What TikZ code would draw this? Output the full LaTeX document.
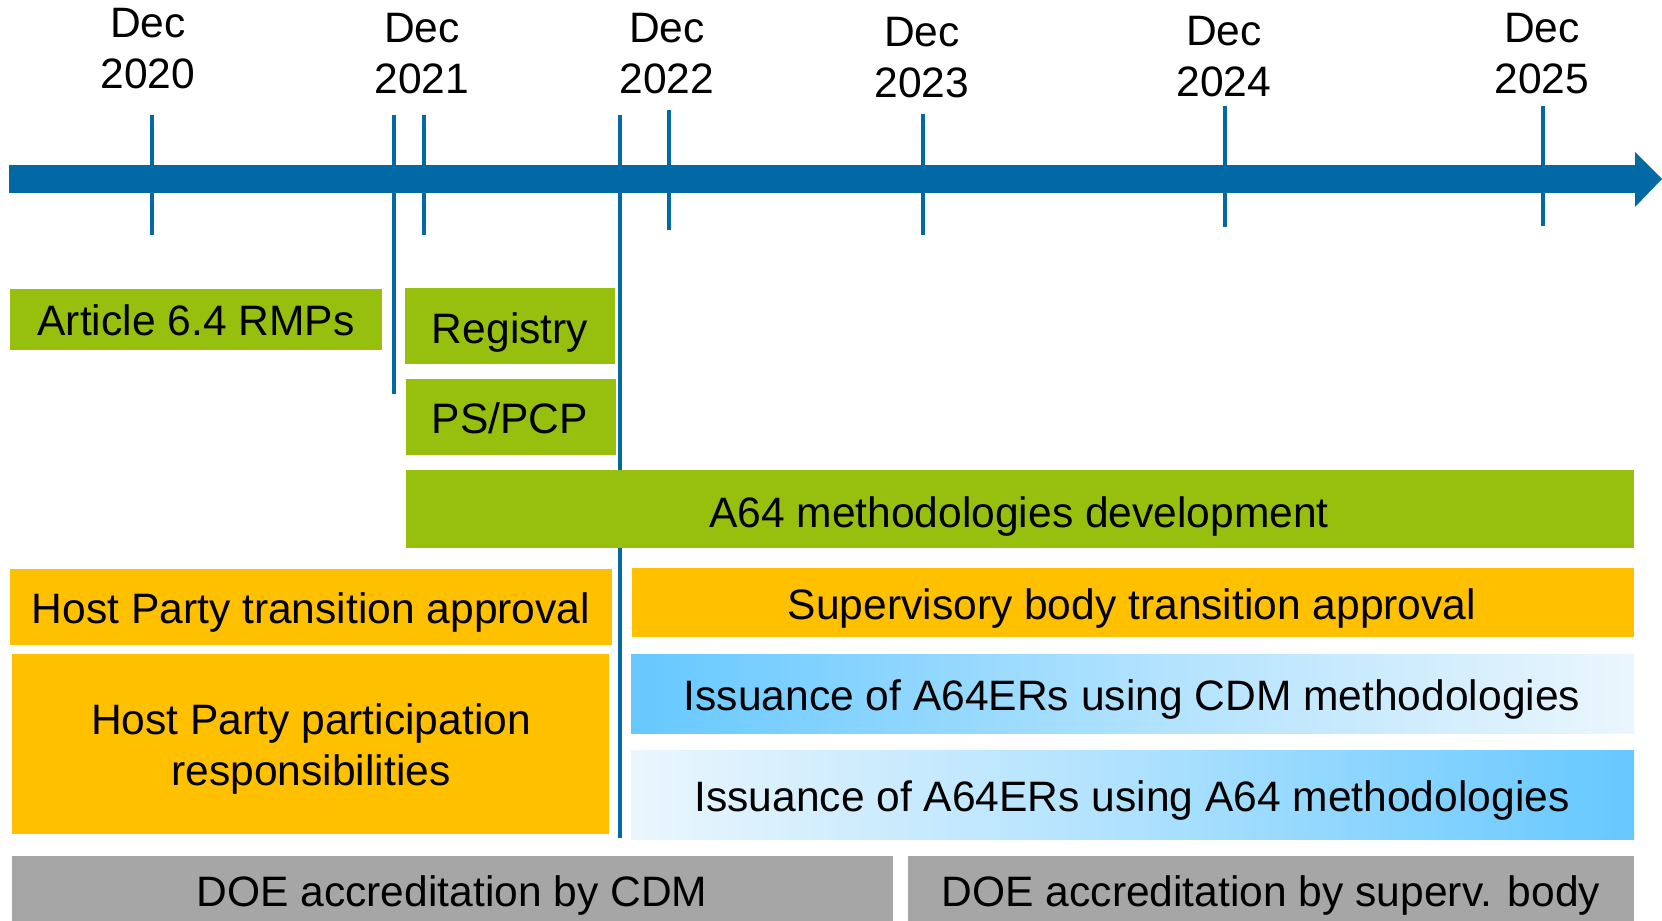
\documentclass[tikz,border=0pt]{standalone}
\usepackage{fontspec}
\setmainfont{Liberation Sans}
\definecolor{barblue}{RGB}{3,105,165}
\definecolor{grn}{RGB}{151,191,13}
\definecolor{orng}{RGB}{255,192,0}
\definecolor{gry}{RGB}{166,166,166}
\definecolor{skyblue}{RGB}{102,200,255}
\definecolor{paleblue}{RGB}{234,246,253}
\tikzset{
	lbl/.style={font=\fontsize{12.1}{14.5}\selectfont, align=center, inner sep=0pt},
	tickline/.style={barblue, line width=1.4pt}
}
\begin{document}
\begin{tikzpicture}[x=0.01cm, y=-0.01cm]
	\useasboundingbox (0,0) rectangle (1662,921);
	\clip (0,0) rectangle (1662,921);
	% Zeitachse
	\fill[barblue] (9,165) rectangle (1635,193);
	\fill[barblue] (1635,152) -- (1662,179) -- (1635,207) -- cycle;
	% Jahresmarken
	\foreach \x/\lx/\ly/\ta/\tb/\jahr in {152/148/49/115/235/2020, 424/422/54/115/235/2021,
		669/667/54/110/230/2022, 923/922/58/114/235/2023, 1225/1224/57/106/227/2024,
		1543/1542/54/106/226/2025}
	{
		\draw[tickline] (\x, \ta) -- (\x, \tb);
		\node[lbl] (dec\jahr) at (\lx, \ly) {Dec\\\jahr};
	}
	% lange Linien
	\draw[tickline] (394,115) -- (394,394);
	\draw[tickline] (620,115) -- (620,838);
	% gruene Balken
	\fill[grn] (10,289) rectangle (382,350);
	\node[lbl] (rmp) at (196,320) {Article 6.4 RMPs};
	\fill[grn] (405,288) rectangle (615,364);
	\node[lbl] (registry) at (510,332) {Registry};
	\fill[grn] (406,379) rectangle (616,455);
	\node[lbl] (pspcp) at (510,418) {PS/PCP};
	\fill[grn] (406,470) rectangle (1634,548);
	\node[lbl] (a64dev) at (1019,516) {A64 methodologies development};
	% orange Balken
	\fill[orng] (10,569) rectangle (612,645);
	\node[lbl] (hptrans) at (311,612) {Host Party transition approval};
	\fill[orng] (12,654) rectangle (609,834);
	\node[lbl] (hppart) at (311,749) {Host Party participation\\responsibilities};
	\fill[orng] (632,568) rectangle (1634,637);
	\node[lbl] (sbtrans) at (1132,608) {Supervisory body transition approval};
	% Ausgabe
	\shade[left color=skyblue, right color=paleblue, middle color=skyblue!45!paleblue] (631,654) rectangle (1634,733);
	\node[lbl] (isscdm) at (1132,699) {Issuance of A64ERs using CDM methodologies};
	\shade[left color=paleblue, right color=skyblue, middle color=skyblue!45!paleblue] (631,750) rectangle (1634,839);
	\node[lbl] (issa64) at (1132,800) {Issuance of A64ERs using A64 methodologies};
	% DOE
	\fill[gry] (12,856) rectangle (893,930);
	\node[lbl] (doecdm) at (452,895) {DOE accreditation by CDM};
	\fill[gry] (908,856) rectangle (1634,930);
	\node[lbl] (doesb) at (1271,895) {DOE accreditation by superv. body};
\end{tikzpicture}
\end{document}
